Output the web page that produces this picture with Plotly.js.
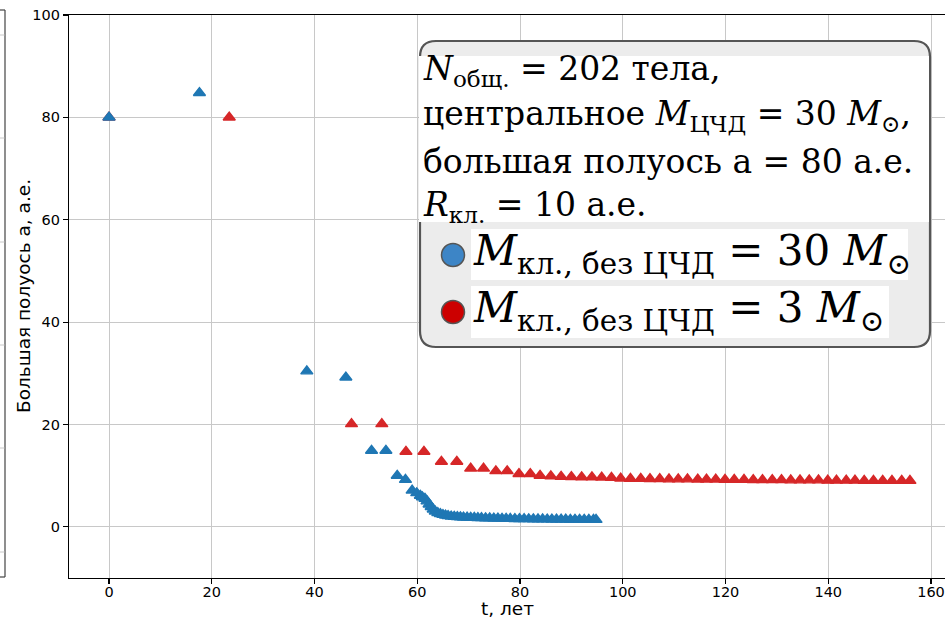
<!DOCTYPE html>
<html>
<head>
<meta charset="utf-8">
<script src="https://cdn.plot.ly/plotly-3.0.1.min.js"></script>
<style>
  html, body { margin: 0; padding: 0; background: #fff; overflow: hidden; }
  #chart { width: 945px; height: 621px; }
</style>
</head>
<body>
<div id="chart"></div>
<script>
// Semi-major axis of cluster bodies vs time, two cluster masses (no central BH)
const tHeavy = [0, 17.6, 38.5, 46.1, 51.1, 53.9, 56.1, 57.7, 59.0, 59.9, 60.6, 61.0, 61.5, 61.9,
  62.3, 62.7, 63.1, 63.5, 64.0, 64.5, 65.0, 65.5, 66.0, 66.6, 67.2, 67.8, 68.4, 69.0, 69.7,
  70.4, 71.1, 71.8, 72.5, 73.3, 74.1, 74.9, 75.7, 76.5, 77.3, 78.1, 79.0, 79.9, 80.8, 81.7,
  82.6, 83.5, 84.4, 85.3, 86.2, 87.1, 88.0, 88.9, 89.8, 90.7, 91.6, 92.5, 93.4, 94.3, 94.8];
const aHeavy = [80, 84.8, 30.4, 29.2, 14.9, 14.9, 10.0, 9.2, 7.1, 6.6, 6.1, 5.8, 5.5, 5.0,
  4.4, 3.9, 3.4, 3.0, 2.7, 2.5, 2.35, 2.25, 2.15, 2.05, 2.0, 1.95, 1.9, 1.85, 1.82,
  1.8, 1.78, 1.75, 1.72, 1.7, 1.68, 1.66, 1.64, 1.62, 1.6, 1.58, 1.56, 1.55, 1.53, 1.52,
  1.5, 1.49, 1.48, 1.47, 1.46, 1.45, 1.44, 1.43, 1.42, 1.41, 1.4, 1.4, 1.39, 1.38, 1.38];

const tLight = [0, 23.4, 47.2, 53.1, 57.8, 61.3, 64.7, 67.7, 70.4, 72.9, 75.3, 77.5, 79.8, 82.0,
  83.9, 86.0, 88.0, 90.0, 92.0, 94.0, 95.9, 97.8, 99.6, 101.5, 103.5, 105.3, 107.2, 109.0,
  110.8, 112.6, 114.6, 116.3, 118.1, 119.9, 121.7, 123.6, 125.4, 127.2, 129.1, 130.9, 132.7,
  134.5, 136.3, 138.1, 139.9, 141.6, 143.5, 145.2, 147.0, 148.8, 150.6, 152.4, 154.3, 155.9];
const aLight = [80, 80, 20.1, 20.1, 14.7, 14.7, 12.75, 12.75, 11.4, 11.4, 10.9, 10.9, 10.35, 10.35,
  10.0, 9.9, 9.8, 9.75, 9.7, 9.7, 9.65, 9.6, 9.45, 9.4, 9.4, 9.35, 9.35, 9.3,
  9.3, 9.3, 9.25, 9.25, 9.25, 9.2, 9.2, 9.2, 9.15, 9.15, 9.15, 9.15, 9.1,
  9.1, 9.1, 9.1, 9.05, 9.05, 9.05, 9.05, 9.0, 9.0, 9.0, 9.0, 9.0, 9.0];

const xTicks = [0, 20, 40, 60, 80, 100, 120, 140, 160];
const yTicks = [0, 20, 40, 60, 80, 100];

const xTitle = 't, лет';
const yTitle = 'Большая полуось а, а.е.';

const infoLines = [
  '<i>N</i><sub>общ.</sub> = 202 тела,',
  'центральное <i>M</i><sub>ЦЧД</sub> = 30 <i>M</i><sub>⊙</sub>,',
  'большая полуось а = 80 а.е.',
  '<i>R</i><sub>кл.</sub> = 10 а.е.'
];
const seriesLabels = [
  '<i>M</i><sub>кл., без ЦЧД</sub> = 30 <i>M</i><sub>⊙</sub>',
  '<i>M</i><sub>кл., без ЦЧД</sub> = 3 <i>M</i><sub>⊙</sub>'
];

// plot-area geometry (pixels) for placing the info box and titles
const L = 69, T = 15, W = 876, H = 563;
const px = x => (x - L) / W;
const py = y => (T + H - y) / H;

function roundRect(x1, y1, x2, y2, r) {
  const p = (x, y) => px(x).toFixed(5) + ',' + py(y).toFixed(5);
  return 'M' + p(x1 + r, y1) + ' L' + p(x2 - r, y1) + ' Q' + p(x2, y1) + ' ' + p(x2, y1 + r) +
    ' L' + p(x2, y2 - r) + ' Q' + p(x2, y2) + ' ' + p(x2 - r, y2) +
    ' L' + p(x1 + r, y2) + ' Q' + p(x1, y2) + ' ' + p(x1, y2 - r) +
    ' L' + p(x1, y1 + r) + ' Q' + p(x1, y1) + ' ' + p(x1 + r, y1) + ' Z';
}
function rect(x1, y1, x2, y2, fill, line, lw) {
  return { type: 'rect', xref: 'paper', yref: 'paper', layer: 'above',
    x0: px(x1), x1: px(x2), y0: py(y2), y1: py(y1),
    fillcolor: fill, line: { color: line || fill, width: lw || 0 } };
}
function seg(x1, y1, x2, y2, color, w) {
  return { type: 'line', xref: 'paper', yref: 'paper', layer: 'above',
    x0: px(x1), x1: px(x2), y0: py(y1), y1: py(y2), line: { color: color, width: w } };
}

const BLUE = '#1f77b4', RED = '#d62728';

const traces = [
  { x: tLight, y: aLight, type: 'scatter', mode: 'markers', showlegend: false,
    marker: { symbol: 'triangle-up', size: 10.5, color: RED, line: { color: RED, width: 1.4 } } },
  { x: tHeavy, y: aHeavy, type: 'scatter', mode: 'markers', showlegend: false,
    marker: { symbol: 'triangle-up', size: 10.5, color: BLUE, line: { color: BLUE, width: 1.4 } } }
];

const shapes = [
  // edge of the neighbouring panel
  seg(5, 10, 5, 577, '#444', 1.2),
  seg(0, 10, 5, 10, '#444', 1.2),
  seg(0, 577, 5, 577, '#444', 1.2),
  ...[35, 138, 242, 345, 448, 552].map(y => seg(0, y, 4.5, y, '#c8c8c8', 1)),
  // info box
  { type: 'path', xref: 'paper', yref: 'paper', layer: 'above',
    path: roundRect(420, 41, 930, 347, 16),
    fillcolor: '#ececec', line: { color: '#555555', width: 2.2 } },
  rect(419, 56, 929, 222, '#ffffff'),
  rect(471, 229, 908, 280, '#ffffff'),
  rect(471, 286, 889, 338, '#ffffff'),
  { type: 'circle', xref: 'paper', yref: 'paper', layer: 'above',
    x0: px(441.5), x1: px(464.5), y0: py(266.5), y1: py(243.5),
    fillcolor: '#3d85c6', line: { color: '#555555', width: 1.5 } },
  { type: 'circle', xref: 'paper', yref: 'paper', layer: 'above',
    x0: px(441.5), x1: px(464.5), y0: py(323.5), y1: py(300.5),
    fillcolor: '#cc0000', line: { color: '#555555', width: 1.5 } }
];

const serif = 'DejaVu Serif, serif';
const sans = 'DejaVu Sans, sans-serif';
const lineY = [70, 116, 161, 206];
const annotations = infoLines.map((txt, i) => ({
  xref: 'paper', yref: 'paper', x: px(421), y: py(lineY[i]),
  xanchor: 'left', yanchor: 'middle', showarrow: false, align: 'left',
  text: txt, font: { family: serif, size: 33, color: '#000' }
})).concat(seriesLabels.map((txt, i) => ({
  xref: 'paper', yref: 'paper', x: px(471), y: py([254, 311][i]),
  xanchor: 'left', yanchor: 'middle', showarrow: false, align: 'left',
  text: txt, font: { family: serif, size: 42, color: '#000' }
}))).concat([
  { xref: 'paper', yref: 'paper', x: px(507), y: py(608), xanchor: 'center', yanchor: 'middle',
    showarrow: false, text: xTitle, font: { family: sans, size: 18.5, color: '#000' } },
  { xref: 'paper', yref: 'paper', x: px(23), y: py(296), xanchor: 'center', yanchor: 'middle',
    showarrow: false, textangle: -90, text: yTitle, font: { family: sans, size: 18.5, color: '#000' } }
]);

const axisCommon = {
  showline: true, linecolor: '#000', linewidth: 1.1,
  ticks: 'outside', ticklen: 5, tickwidth: 1.1, tickcolor: '#000',
  showgrid: true, gridcolor: '#c8c8c8', gridwidth: 1, zeroline: false,
  tickfont: { family: sans, size: 14.5, color: '#000' }
};

const layout = {
  width: 945, height: 621,
  margin: { l: L, r: 945 - L - W, t: T, b: 621 - T - H },
  paper_bgcolor: '#fff', plot_bgcolor: '#fff',
  xaxis: Object.assign({}, axisCommon, {
    range: [-7.79, (945 - 109) / 5.1375], tickvals: xTicks, mirror: true,
    ticklabelstandoff: -5
  }),
  yaxis: Object.assign({}, axisCommon, {
    range: [-10, 100], tickvals: yTicks
  }),
  shapes: shapes,
  annotations: annotations
};

Plotly.newPlot('chart', traces, layout, { staticPlot: true, displayModeBar: false });
</script>
</body>
</html>
